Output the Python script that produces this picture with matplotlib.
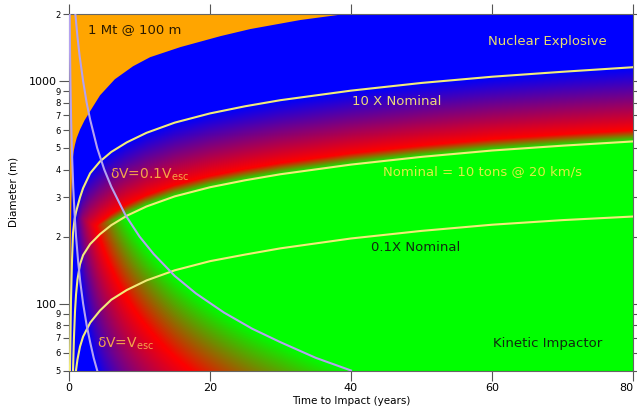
import numpy as np
import matplotlib
matplotlib.use("Agg")
import matplotlib.pyplot as plt
from matplotlib.colors import LinearSegmentedColormap

# ---------------------------------------------------------------------------
# Curves: time to impact (years) vs diameter (m)
# ---------------------------------------------------------------------------
x10_t = [0.14, 0.28, 0.43, 0.57, 0.8, 1.0, 1.56, 2.0, 3.0, 4.4, 6.0, 8.2, 11,
         15, 20, 25, 30, 40, 50, 60, 70, 80]
x10_d = [50, 103, 157, 208, 240, 258, 300, 330, 385, 435, 480, 530, 585,
         650, 715, 770, 820, 905, 980, 1045, 1100, 1153]

nominal_t = [0.57, 0.7, 0.85, 1.0, 1.2, 1.56, 2.0, 3.0, 4.4, 6.0, 8.2, 11,
             15, 20, 25, 30, 40, 50, 60, 70, 80]
nominal_d = [50, 70, 92, 110, 128, 150, 165, 185, 205, 225, 248, 273,
             303, 333, 358, 381, 421, 456, 487, 512, 535]

x01_t = [0.99, 1.2, 1.56, 2.0, 3.0, 4.4, 6.0, 8.2, 11, 15, 20, 25, 30, 40,
         50, 60, 70, 80]
x01_d = [50, 56, 64, 71, 82, 93, 104, 115, 127, 141, 155, 166, 177, 196,
         212, 226, 237, 246]

# dV = 0.1 Vesc and dV = Vesc
v01_t = [0.9, 1.0, 1.2, 1.5, 2, 2.5, 3, 4, 5, 6, 8, 10, 12, 15, 18, 22, 26,
         30, 35, 40]
v01_d = [2000, 1850, 1580, 1300, 1000, 800, 670, 500, 400, 335, 250, 200,
         167, 133, 111, 91, 77, 67, 57, 50]

vesc_t = [0.1, 0.15, 0.2, 0.3, 0.4, 0.6, 0.8, 1.0, 1.3, 1.6, 2.0, 2.5, 3.0,
          3.5, 4.0]
vesc_d = [2000, 1330, 1000, 670, 500, 333, 250, 200, 154, 125, 100, 80, 67,
          57, 50]

# 1 Mt @ 100 m limit (orange region lies above / left of it)
mt_t = [0.142, 0.16, 0.185, 0.22, 0.284, 0.35, 0.426, 0.55, 0.7, 0.853, 1.1,
        1.56, 2.2, 2.98, 4.4, 6.5, 9.09, 11.5, 15.8, 21.5, 25.7, 32.8, 39.2]
mt_d = [50, 70, 103, 150, 214, 300, 390, 450, 490, 518, 555,
        605, 665, 730, 862, 1018, 1165, 1279, 1420, 1591, 1711, 1879, 2000]

GREEN = "#00FF00"
RED = "#FF0000"
BLUE = "#0000FF"
ORANGE = "#FFA500"
YELLOW_LINE = "#F2EC7A"
LAVENDER = "#B4A2F0"
LABEL_ORANGE = "#F5A54A"
DARK = "#102A10"

fig = plt.figure(figsize=(6.37, 4.12), dpi=100)
ax = fig.add_axes([69 / 637, 41.5 / 412, 564 / 637, 356.5 / 412])
ax.set_yscale("log")
ax.set_xlim(0, 80)
ax.set_ylim(50, 2000)

# ── background: green (kinetic) -> red -> blue (nuclear) ─────────────────
T, D = np.meshgrid(np.linspace(0, 80, 565),
                   np.logspace(np.log10(50), np.log10(2000), 360))
logd = np.log10(D)
m_mass = 3 * (logd - np.interp(T, nominal_t, np.log10(nominal_d)))
m_kick = np.interp(np.log10(np.maximum(T, 0.01)), np.log10(v01_t),
                   np.log10(v01_d)) - logd
u = np.maximum(np.interp(m_mass, [0, 0.16, 1], [0, 0.5, 1]),
               np.interp(m_kick, [0, 0.36, 1], [0, 0.5, 1]))
cmap = LinearSegmentedColormap.from_list("defl", [GREEN, RED, BLUE])
ax.pcolormesh(T, D, u, cmap=cmap, vmin=0, vmax=1, shading="gouraud",
              rasterized=True, zorder=0)

# ── orange region ─────────────────────────────────────────────────────────
ax.fill([0] + mt_t + [0], [50] + mt_d + [2000], color=ORANGE, lw=0, zorder=1)

# ── curves ────────────────────────────────────────────────────────────────
for t, d in [(x10_t, x10_d), (nominal_t, nominal_d), (x01_t, x01_d)]:
    ax.plot(t, d, color=YELLOW_LINE, lw=1.5, zorder=3)
for t, d in [(v01_t, v01_d), (vesc_t, vesc_d)]:
    ax.plot(t, d, color=LAVENDER, lw=1.5, zorder=3)

# ── labels ────────────────────────────────────────────────────────────────
ax.text(2.7, 1710, "1 Mt @ 100 m", fontsize=9.5, color="#2A1A00", va="center")
ax.text(59.5, 1511, "Nuclear Explosive", fontsize=9.5, color="#E8DE6E",
        va="center")
ax.text(40.2, 810, "10 X Nominal", fontsize=9.5, color="#EED87A", va="center")
ax.text(44.5, 391, "Nominal = 10 tons @ 20 km/s", fontsize=9.5,
        color="#DDEE44", va="center")
ax.text(42.8, 178, "0.1X Nominal", fontsize=9.5, color=DARK, va="center")
ax.text(60.2, 66.2, "Kinetic Impactor", fontsize=9.5, color=DARK, va="center")
ax.text(5.8, 379, r"δV=0.1V$_{\mathrm{esc}}$", fontsize=10,
        color=LABEL_ORANGE, va="center")
ax.text(4.0, 66.2, r"δV=V$_{\mathrm{esc}}$", fontsize=10,
        color=LABEL_ORANGE, va="center")

# ── axes ──────────────────────────────────────────────────────────────────
ax.set_xticks([0, 20, 40, 60, 80])
ax.set_yticks([100, 1000], labels=["100", "1000"])
minor = [50, 60, 70, 80, 90, 200, 300, 400, 500, 600, 700, 800, 900, 2000]
ax.set_yticks(minor, labels=[str(v)[0] for v in minor], minor=True)
ax.tick_params(which="both", direction="out", top=True, right=True,
               color="#555555", width=0.8)
ax.tick_params(which="major", length=7, labelsize=8, pad=2)
ax.tick_params(which="minor", length=4, labelsize=6, pad=2)
ax.tick_params(axis="x", which="minor", bottom=False, top=False)
ax.get_xticklabels()[-1].set_horizontalalignment("right")
for s in ax.spines.values():
    s.set_color("#666666")
    s.set_linewidth(0.8)

ax.set_xlabel("Time to Impact (years)", fontsize=7.5, labelpad=2)
ax.set_ylabel("Diameter (m)", fontsize=7.5, labelpad=7)

fig.savefig("out.png", dpi=100, facecolor="white")
